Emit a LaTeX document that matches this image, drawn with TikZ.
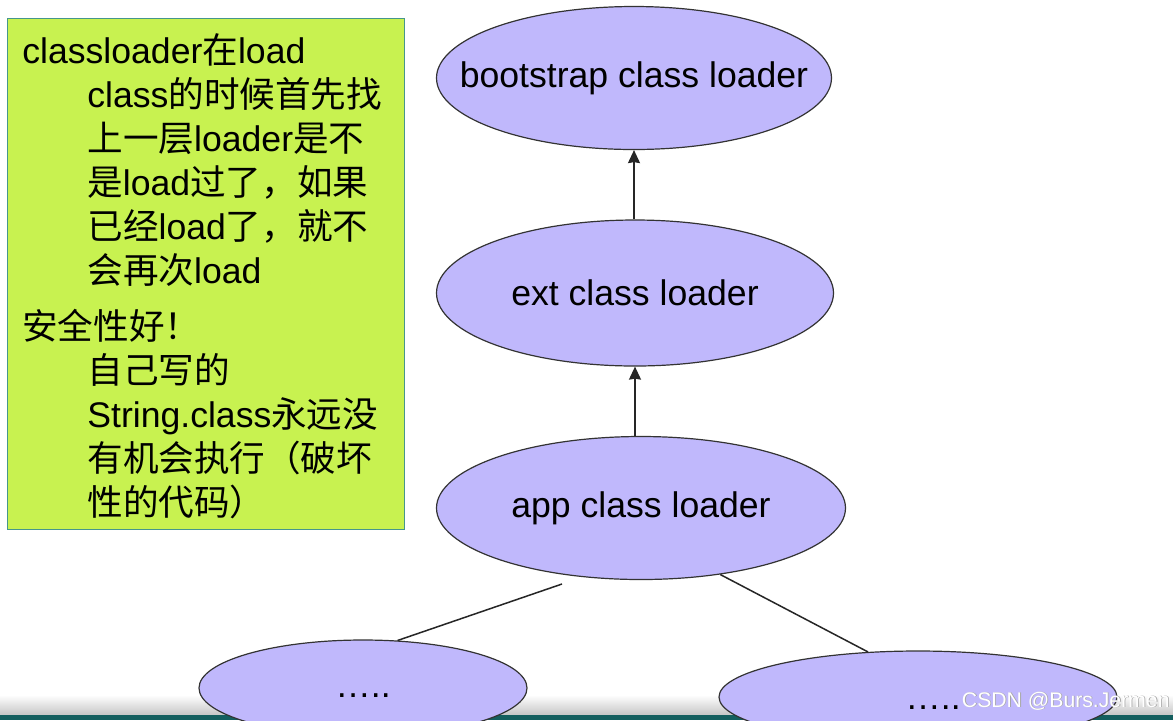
\documentclass[tikz,border=0pt]{standalone}
\usepackage{fontspec}
\setmainfont{Liberation Sans}
\newfontfamily\cjk{Noto Sans CJK SC}
\usetikzlibrary{arrows.meta}
\usetikzlibrary{shapes.geometric}
\newcommand{\zh}[1]{{\cjk #1}}
\definecolor{loaderfill}{RGB}{192,184,252}
\definecolor{notefill}{RGB}{200,242,80}
\definecolor{noteline}{RGB}{70,150,140}
\definecolor{stripteal}{RGB}{20,95,95}

\begin{document}
\begin{tikzpicture}[x=0.5pt,y=-0.5pt,>={Stealth[length=6.5pt,width=6pt,inset=0.5pt]},
    font=\fontsize{17.8}{22}\selectfont,
    loader node/.style={ellipse,draw=black!80,fill=loaderfill,line width=0.6pt,inner sep=0pt},
    link/.style={line width=0.75pt,color=black!85},
    dots node/.style={anchor=base,inner sep=0pt}]
   \useasboundingbox (0,0) rectangle (1173,720);
   \clip (0,0) rectangle (1173,720);
   % background and bottom of the slide
   \fill[white] (0,0) rectangle (1173,720);
   \fill[top color=white,bottom color=gray!45] (0,695) rectangle (1173,715);
   \fill[stripteal] (0,715) rectangle (1173,720);
   % note box
   \node[draw=noteline,fill=notefill,line width=0.6pt,inner sep=0pt,anchor=north west,
     minimum width=198.5pt,minimum height=255.5pt] (note) at (7,18) {};
   \node[anchor=north west,align=left,inner sep=0pt] (notetext) at (22,33) {%
     classloader\zh{在}load\\
     \hspace*{32.5pt}class\zh{的时候首先找}\\
     \hspace*{32.5pt}\zh{上一层}loader\zh{是不}\\
     \hspace*{32.5pt}\zh{是}load\zh{过了，如果}\\
     \hspace*{32.5pt}\zh{已经}load\zh{了，就不}\\
     \hspace*{32.5pt}\zh{会再次}load\\[6pt]
     \zh{安全性好！}\\
     \hspace*{32.5pt}\zh{自己写的}\\
     \hspace*{32.5pt}String.class\zh{永远没}\\
     \hspace*{32.5pt}\zh{有机会执行（破坏}\\
     \hspace*{32.5pt}\zh{性的代码）}};
   % loaders
   \node[loader node,minimum width=197.5pt,minimum height=71.5pt,
     label=center:{bootstrap class loader}] (boot) at (634,78) {};
   \node[loader node,minimum width=198.5pt,minimum height=73pt,
     label=center:{ext class loader}] (ext) at (635,293) {};
   \node[loader node,minimum width=204.5pt,minimum height=71.5pt,
     label=center:{app class loader}] (app) at (641,508) {};
   \node[loader node,minimum width=164pt,minimum height=48pt] (left) at (363,688) {};
   \node[loader node,minimum width=199pt,minimum height=46pt] (right) at (918,697) {};
   \node[dots node] (leftdots) at (363,697) {…..};
   \node[dots node] (rightdots) at (933,709) {…..};
   \coordinate (lfoot) at (562,584);
   % connectors
   \path[->,link] (ext.north -| boot.south) edge (boot.south);
   \path[->,link] (app.north -| ext.south) edge (ext.south);
   \path[-,link] (lfoot) edge (left.54);
   \path[-,link] (app.-40) edge (right.138);
   % watermark
   \node[anchor=base east,inner sep=0pt,font=\fontsize{10.6}{12}\selectfont,text=gray!70]
     (markshadow) at (1170.8,707.8) {CSDN @Burs.Jermen};
   \node[anchor=base east,inner sep=0pt,font=\fontsize{10.6}{12}\selectfont,text=white]
     (mark) at (1170,707) {CSDN @Burs.Jermen};
\end{tikzpicture}
\end{document}
